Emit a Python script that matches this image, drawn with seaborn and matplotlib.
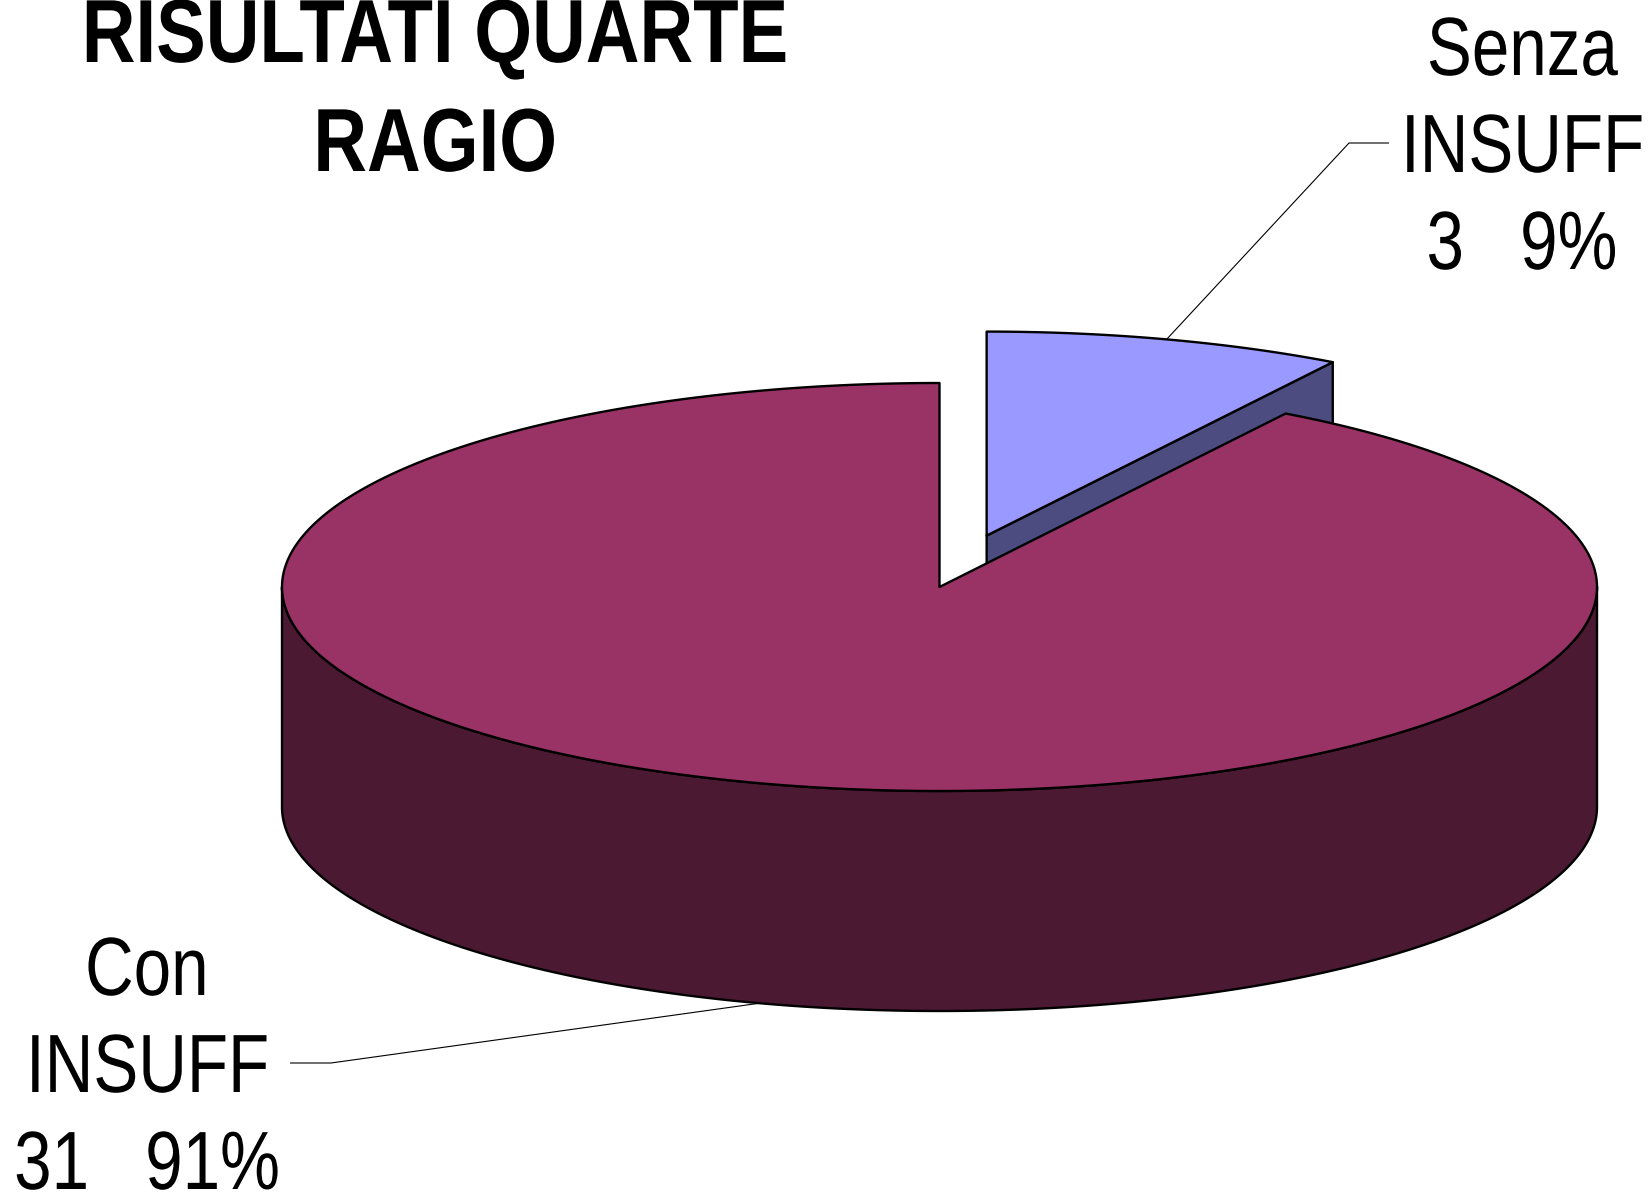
import numpy as np
import pandas as pd
import matplotlib
matplotlib.use("Agg")
import matplotlib.pyplot as plt
import seaborn as sns
from matplotlib.patches import Polygon
from matplotlib import font_manager
from matplotlib.patheffects import AbstractPathEffect
from matplotlib.transforms import Affine2D

# ---------------- data ----------------
categories = ["Senza INSUFF", "Con INSUFF"]
label_lines = [["Senza", "INSUFF"], ["Con", "INSUFF"]]
counts = [3, 31]
top_colors = ["#9999FF", "#993366"]
side_colors = ["#4C4C80", "#4C1933"]
explode = [0.262, 0.0]
title_lines = ["RISULTATI QUARTE", "RAGIO"]

df = pd.DataFrame({"category": categories, "count": counts})
df["pct"] = (100 * df["count"] / df["count"].sum()).round().astype(int)

# ---------------- layout (pixel space) ----------------
W, H = 1651, 1193
CX, CY = 939.5, 587.0
RX, RY = 657.5, 204.0
DEPTH = 220.0
START = 90.0
label_pos = [(1522, 75), (147, 995)]          # centre x, first baseline
line_step = 97
leader_elbow = [(1349, 143), (331, 1063)]
leader_end = [(1389, 143), (290, 1063)]

sns.set_style("white")
avail = {f.name for f in font_manager.fontManager.ttflist}
def pick(names):
    for n in names:
        if n in avail:
            return n
    return "DejaVu Sans"
narrow = pick(["Liberation Sans Narrow", "Arial Narrow"])
base = pick(["Liberation Sans", "Arial"])
has_narrow = narrow != "DejaVu Sans"
SX_LABEL = 1.0 if has_narrow else 0.815
SX_TITLE = 1.0 if has_narrow else 0.83
font_name = narrow if has_narrow else base
plt.rcParams["font.family"] = [font_name, "DejaVu Sans"]


class HScale(AbstractPathEffect):
    """Horizontally condense glyphs about their own centre (Arial Narrow look)."""
    def __init__(self, sx):
        super().__init__()
        self.sx = sx

    def draw_path(self, renderer, gc, tpath, affine, rgbFace=None):
        ext = tpath.get_extents(affine)
        cx = (ext.x0 + ext.x1) / 2
        new = affine + Affine2D().translate(-cx, 0).scale(self.sx, 1).translate(cx, 0)
        renderer.draw_path(gc, tpath, new, rgbFace)


fig = plt.figure(figsize=(W / 100, H / 100), dpi=100)
ax = fig.add_axes([0, 0, 1, 1])
ax.set_xlim(0, W)
ax.set_ylim(H, 0)
ax.axis("off")

def pt(t, ox=0.0, oy=0.0, dz=0.0):
    r = np.radians(t)
    return CX + ox + RX * np.cos(r), CY + oy - RY * np.sin(r) + dz

def arc(t1, t2, ox, oy, dz=0.0, n=400):
    ts = np.linspace(t1, t2, n)
    xs, ys = pt(ts, ox, oy, dz)
    return np.column_stack([xs, ys])

total = df["count"].sum()
slices = []
cur = START
for i, c in enumerate(df["count"]):
    span = 360.0 * c / total
    t1, t2 = cur, cur - span
    mid = (t1 + t2) / 2
    ox = explode[i] * RX * np.cos(np.radians(mid))
    oy = -explode[i] * RY * np.sin(np.radians(mid))
    slices.append(dict(t1=t1, t2=t2, mid=mid, ox=ox, oy=oy))
    cur = t2

EC = "black"
LW = 1.7

# walls and cut faces
for i, s in enumerate(slices):
    ox, oy = s["ox"], s["oy"]
    for lo, hi in [(180, 360), (-180, 0), (540, 720), (-540, -360)]:
        a, b = max(lo, s["t2"]), min(hi, s["t1"])
        if b > a:
            top = arc(a, b, ox, oy)
            bot = arc(b, a, ox, oy, DEPTH)
            ax.add_patch(Polygon(np.vstack([top, bot]), closed=True,
                                 fc=side_colors[i], ec=EC, lw=LW, joinstyle="round"))
    for t, normal in [(s["t2"], s["t2"] - 90), (s["t1"], s["t1"] + 90)]:
        if np.sin(np.radians(normal)) < -1e-6:
            c0 = (CX + ox, CY + oy)
            e0 = pt(t, ox, oy)
            quad = [c0, e0, (e0[0], e0[1] + DEPTH), (c0[0], c0[1] + DEPTH)]
            ax.add_patch(Polygon(quad, closed=True, fc=side_colors[i],
                                 ec=EC, lw=LW, joinstyle="round"))

# top faces
for i, s in enumerate(slices):
    ox, oy = s["ox"], s["oy"]
    pts = np.vstack([[CX + ox, CY + oy], arc(s["t1"], s["t2"], ox, oy)])
    ax.add_patch(Polygon(pts, closed=True, fc=top_colors[i], ec=EC,
                         lw=LW, joinstyle="round"))

# leaders and labels
for i, s in enumerate(slices):
    ox, oy = s["ox"], s["oy"]
    m = s["mid"] % 360
    if np.sin(np.radians(m)) >= 0:
        start = pt(m, ox, oy)
    else:
        start = pt(m, ox, oy, DEPTH)
    xs = [start[0], leader_elbow[i][0], leader_end[i][0]]
    ys = [start[1], leader_elbow[i][1], leader_end[i][1]]
    ax.plot(xs, ys, color="black", lw=0.8, solid_capstyle="butt")

    lines = label_lines[i] + [f"{df['count'][i]}   {df['pct'][i]}%"]
    lx, ly = label_pos[i]
    for k, txt in enumerate(lines):
        ax.text(lx, ly + k * line_step, txt, ha="center", va="baseline",
                fontsize=59.5, color="black", path_effects=[HScale(SX_LABEL)])

title_x = 435
title_base = [62, 171]
for txt, yb in zip(title_lines, title_base):
    ax.text(title_x, yb, txt, ha="center", va="baseline", fontsize=64.5,
            fontweight="bold", color="black", path_effects=[HScale(SX_TITLE)])

fig.savefig("out.png", dpi=100, facecolor="white")
